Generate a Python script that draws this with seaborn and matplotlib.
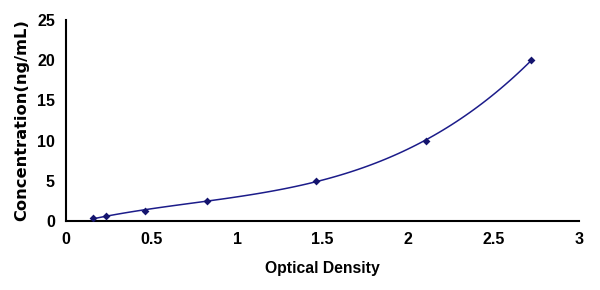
import matplotlib
matplotlib.use("Agg")
import matplotlib.pyplot as plt
import seaborn as sns
import numpy as np
import pandas as pd

optical_density = [0.157, 0.234, 0.461, 0.825, 1.464, 2.105, 2.721]
concentration = [0.312, 0.625, 1.25, 2.5, 5.0, 10.0, 20.0]
x_ticks = [0, 0.5, 1, 1.5, 2, 2.5, 3]
x_tick_labels = ["0", "0.5", "1", "1.5", "2", "2.5", "3"]
y_ticks = [0, 5, 10, 15, 20, 25]

df = pd.DataFrame({"od": optical_density, "conc": concentration})

sns.set_theme(style="white")
plt.rcParams["font.family"] = ["Liberation Sans", "DejaVu Sans"]
plt.rcParams["text.color"] = "black"
plt.rcParams["axes.labelcolor"] = "black"

fig = plt.figure(figsize=(6, 2.9), dpi=100)
ax = fig.add_axes([0.11, 0.238, 0.855, 0.693])

navy = "#1c1c8a"
sns.regplot(data=df, x="od", y="conc", order=3, ci=None, ax=ax,
            truncate=True, marker="D",
            scatter_kws=dict(s=16, color="#14146e", alpha=1, zorder=3,
                             linewidths=0),
            line_kws=dict(color=navy, lw=1.1))

ax.set_xlim(0, 3)
ax.set_ylim(0, 25)
ax.set_xticks(x_ticks)
ax.set_xticklabels(x_tick_labels)
ax.set_yticks(y_ticks)
for s in ["top", "right"]:
    ax.spines[s].set_visible(False)
for s in ["left", "bottom"]:
    ax.spines[s].set_color("black")
    ax.spines[s].set_linewidth(1.5)
ax.tick_params(direction="in", length=5, width=1.5, colors="black",
               labelsize=11.5, pad=8)
for lab in ax.get_xticklabels() + ax.get_yticklabels():
    lab.set_fontweight("bold")
ax.set_xlabel("Optical Density", fontsize=11.3, fontweight="bold", labelpad=10)
ax.set_ylabel("Concentration(ng/mL)", fontsize=11.7, fontweight="bold",
              family=["DejaVu Sans"])
ax.yaxis.set_label_coords(-0.072, 0.5)
ax.grid(False)

fig.savefig("out.png", dpi=100, facecolor="white")
